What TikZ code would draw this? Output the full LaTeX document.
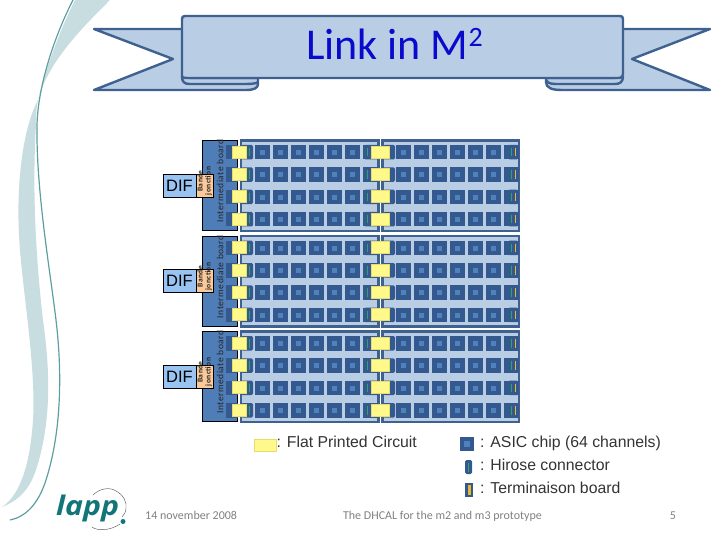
\documentclass[tikz,border=0pt]{standalone}
\usepackage{fontspec}
\setmainfont{Liberation Sans}
\newfontfamily\calib{Carlito}
\newfontfamily\logofont{Open Sans}
\definecolor{bdark}{HTML}{366092}
\definecolor{bframe}{HTML}{3F618F}
\definecolor{bchip}{HTML}{34598F}
\definecolor{binner}{HTML}{4F81BD}
\definecolor{blight}{HTML}{B9CDE5}
\definecolor{bboard}{HTML}{4F7DB8}
\definecolor{difblue}{HTML}{99C4F2}
\definecolor{peach}{HTML}{FBC99A}
\definecolor{fpc}{HTML}{FFF98C}
\definecolor{fpcline}{HTML}{E8DC6A}
\definecolor{hirgreen}{HTML}{2FA36B}
\definecolor{termy}{HTML}{E8B830}
\definecolor{swoosh}{HTML}{C8DDE0}
\definecolor{swline}{HTML}{5F9EA0}
\definecolor{lappc}{HTML}{12757A}
\definecolor{titleb}{HTML}{0A0ACC}
\definecolor{footg}{HTML}{808080}
\definecolor{banline}{HTML}{3F618F}
\tikzset{
  panelbox/.style={draw=bframe,line width=2.5pt,fill=blight},
  chipbox/.style={fill=bchip},
  innerbox/.style={fill=binner},
  hirbox/.style={fill=bchip,rounded corners=1.5pt},
  fpcbox/.style={fill=fpc,draw=fpcline,line width=.6pt},
  banner/.style={draw=banline,line width=2.4pt,fill=blight,line join=round},
  lab/.style={inner sep=0pt,anchor=west,font=\fontsize{15.8}{16}\selectfont,text=black!80},
  foot/.style={inner sep=0pt,text=footg,font=\calib\fontsize{12}{12}\selectfont},
}
\begin{document}
\begin{tikzpicture}[x=1pt,y=-1pt]
\useasboundingbox (0,0) rectangle (720,540);
% swooshes
\fill[swoosh] (110,0) .. controls (85,25) and (55,55) .. (42,88) .. controls (38,98) and (36,105) .. (36,125)
  .. controls (32,190) and (36,260) .. (43,320) .. controls (50,370) and (52,420) .. (36,470)
  .. controls (30,488) and (20,500) .. (2,507) .. controls (20,495) and (30,465) .. (33,420)
  .. controls (36,370) and (24,300) .. (20,250) .. controls (15,190) and (22,130) .. (38,100)
  .. controls (45,70) and (60,30) .. (75,0) -- cycle;
\draw[swline,line width=1.2pt] (73,0) .. controls (55,35) and (38,85) .. (37,125)
  .. controls (36,190) and (50,270) .. (56,320) .. controls (62,370) and (62,430) .. (46,480)
  .. controls (38,505) and (25,517) .. (10,520);
% banner
\path[banner] (94,29) -- (190,29) -- (190,78) -- (258,78) -- (258,84) .. controls (258,88) and (254,90) .. (246,90) -- (94,90) -- (173,59) -- cycle;
\path[banner] (710,29) -- (615,29) -- (615,78) -- (546,78) -- (546,82) .. controls (546,88) and (552,90) .. (562,90) -- (710,90) -- (632,59) -- cycle;
\draw[banline,line width=2.4pt] (182,76) .. controls (182,82) and (184,84) .. (190,84) -- (240,84) .. controls (250,84) and (256,84) .. (258,82);
\draw[banline,line width=2.4pt] (623,76) .. controls (623,82) and (620,84) .. (615,84) -- (560,84) .. controls (552,84) and (548,84) .. (546,80);
\path[banner] (185,16) -- (620,16) .. controls (622,16) and (623,17) .. (623,19) -- (623,74) .. controls (623,76) and (622,78) .. (618,78) -- (190,78) .. controls (185,78) and (182,78) .. (182,76) -- (182,19) .. controls (182,17) and (183,16) .. (185,16) -- cycle;
\node[inner sep=0pt,anchor=base west,text=titleb,font=\calib\fontsize{44}{44}\selectfont] (title) at (306,60) {Link in M\raisebox{.3em}{\fontsize{28}{28}\selectfont 2}};
% modules
\foreach \dy/\n in {0/a,95.7/b,191/c}{
\begin{scope}[yshift=-\dy pt]
  \fill[bboard,draw=black,line width=.8pt] (202,140.5) rectangle (237,230.5);
  \draw[panelbox] (241,140.5) rectangle (378.5,231);
  \draw[panelbox] (382.5,140.5) rectangle (519,231);
  \foreach \ry in {145,167.3,189.6,212}{
    % chips
    \foreach \k in {0,...,6}{
      \fill[chipbox] (255+18*\k,\ry) rectangle ++(14.5,14.5);
      \fill[innerbox] (260+18*\k,\ry+5) rectangle ++(5,5);
      \fill[chipbox] (396+18*\k,\ry) rectangle ++(14.5,14.5);
      \fill[innerbox] (401+18*\k,\ry+5) rectangle ++(5,5);
    }
    % connectors
    \fill[chipbox] (226,\ry) rectangle ++(12,14.5);
    \fill[hirbox] (241,\ry) rectangle ++(12,14.5);
    \draw[hirgreen,line width=.7pt] (249.5,\ry+3) -- ++(0,8.5);
    \fill[hirbox] (364,\ry) rectangle ++(14.5,14.5);
    \draw[hirgreen,line width=.7pt] (367,\ry+3) -- ++(0,8.5);
    \fill[hirbox] (383,\ry) rectangle ++(12,14.5);
    \fill[hirbox] (508,\ry) rectangle ++(10,14.5);
    \draw[hirgreen,line width=.7pt] (511,\ry+3) -- ++(0,8.5);
    \draw[termy,line width=.7pt] (515,\ry+3) -- ++(0,8.5);
    % flat printed circuits
    \fill[fpc] (232,\ry+1) rectangle ++(14,12);
    \draw[fpcline,line width=.5pt] (232,\ry+1) rectangle ++(14,12);
    \fill[fpc] (371,\ry+1) rectangle ++(18,12);
    \draw[fpcline,line width=.5pt] (371,\ry+1) rectangle ++(18,12);
  }
  \node[inner sep=0pt,rotate=90,text=black!85,font=\calib\fontsize{9.5}{9.5}\selectfont\addfontfeatures{LetterSpace=5}] (ib\n) at (220,181) {Intermediate board};
  \node[draw=black,line width=.9pt,fill=difblue,minimum width=33pt,minimum height=23pt,inner sep=0pt,font=\fontsize{16.5}{16.5}\selectfont] (dif\n) at (179.5,185.5) {DIF};
  \node[draw=black,line width=.9pt,fill=peach,minimum width=17pt,minimum height=23pt,inner sep=0pt] (pe\n) at (204.5,185.5) {};
  \node[inner sep=0pt,rotate=90,align=center,text=black!85,font=\calib\bfseries\fontsize{7.5}{8}\selectfont\addfontfeatures{LetterSpace=6}] (ba\n) at (204.5,181) {Bande\\jonction};
\end{scope}
}
% legend
\node[fpcbox,minimum width=22pt,minimum height=12pt,inner sep=0pt,anchor=west] (lgf) at (253.5,445) {};
\node[lab,anchor=base west] (lgft) at (276.5,447.5) {: Flat Printed Circuit};
\fill[chipbox] (460,437) rectangle ++(14,14);
\fill[innerbox] (464,441) rectangle ++(6,6);
\node[lab,anchor=base west] (la) at (480,447.5) {: ASIC chip (64 channels)};
\fill[hirbox] (465,460) rectangle ++(7,14);
\draw[hirgreen,line width=.8pt] (468.5,462.5) -- ++(0,9);
\node[lab,anchor=base west] (lb) at (480,470.5) {: Hirose connector};
\fill[chipbox] (465,483) rectangle ++(8,14);
\fill[termy] (467.5,485) rectangle ++(3.5,9.5);
\node[lab,anchor=base west] (lc) at (480,493) {: Terminaison board};
% footer
\node[foot,anchor=base west] (fd) at (145,519) {14 november 2008};
\node[foot,anchor=base] (ft) at (442.5,519) {The DHCAL for the m2 and m3 prototype};
\node[foot,anchor=base] (fn) at (673,519) {5};
% logo
\node[inner sep=0pt,anchor=base west,text=lappc,draw=none,xscale=1.12,font=\logofont\bfseries\itshape\fontsize{27}{27}\selectfont] (lg) at (56,515) {lapp};
\fill[lappc] (123,521.5) circle (2.5pt);
\draw[black!70,line width=.4pt] (93,495) .. controls (100,488) and (110,487) .. (116,491) .. controls (124,495) and (127,503) .. (126,508) .. controls (126,512) and (124,515) .. (122,517);
\draw[black!70,line width=.4pt] (92,527) .. controls (97,531) and (110,531) .. (120,524);
\end{tikzpicture}
\end{document}
